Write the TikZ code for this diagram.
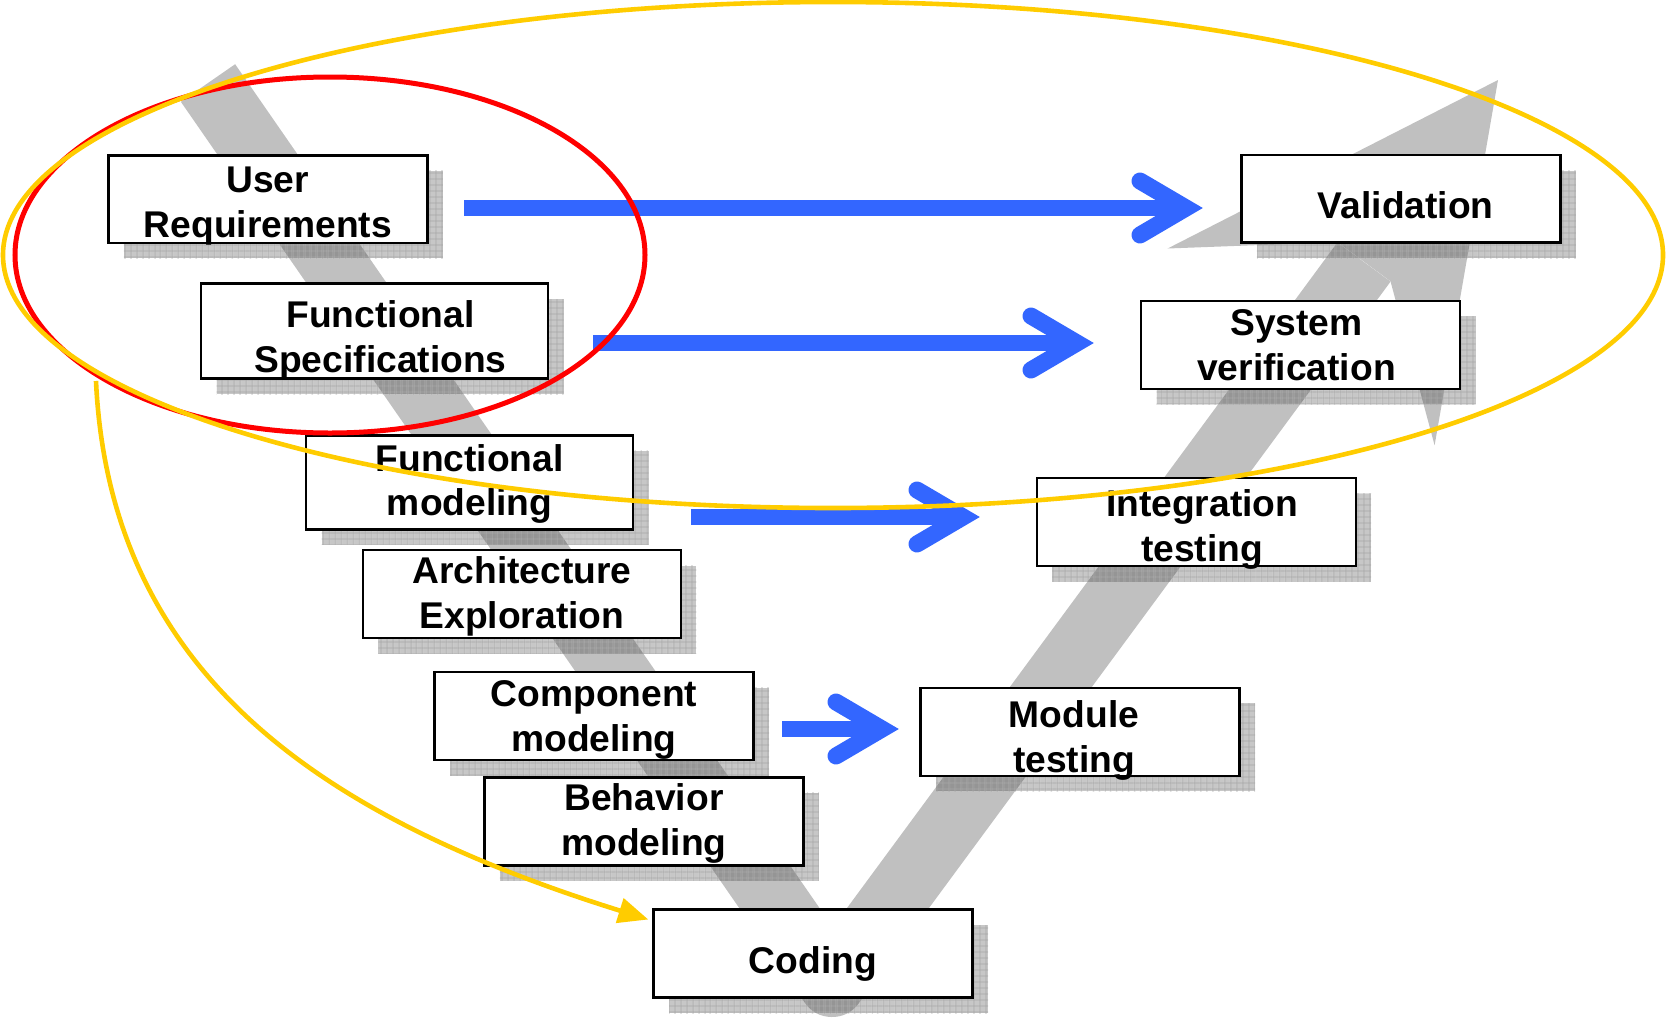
\documentclass[tikz,border=0pt]{standalone}
\usepackage{fontspec}
\setmainfont{Liberation Sans}
\usetikzlibrary{calc,arrows.meta,shadows,patterns.meta}

\definecolor{vgray}{HTML}{C0C0C0}
\definecolor{flowblue}{HTML}{3366FF}
\definecolor{ovalred}{HTML}{FF0000}
\definecolor{ovalyellow}{HTML}{FFCC00}

% box label: lines stacked from the first baseline, raised by #1 pt from the box centre,
% taking no vertical room so that the frame keeps its own size
\newcommand\stagetext[2]{\raisebox{#1pt}[0pt][0pt]{\begin{tabular}[t]{@{}c@{}}#2\end{tabular}}}
% leading space that moves a centred line sideways
\newcommand\nudge[1]{\hspace*{#1pt}}

\tikzset{
  stage/.style={draw=black, line width=2.4pt, fill=white, inner sep=0pt,
    minimum width=319pt, minimum height=88pt,
    font=\fontsize{37.2}{44.8}\selectfont\bfseries,
    general shadow={shadow xshift=15.5pt, shadow yshift=-15.5pt, fill=black, fill opacity=0.22},
    general shadow={shadow xshift=15.5pt, shadow yshift=-15.5pt,
      pattern={Lines[angle=0,distance=6.4pt,line width=0.7pt]}, pattern color=black!35},
    general shadow={shadow xshift=15.5pt, shadow yshift=-15.5pt,
      pattern={Lines[angle=90,distance=6.4pt,line width=0.7pt]}, pattern color=black!35}},
  vband/.style={vgray, line width=66pt, line join=round},
  blueshaft/.style={flowblue, line width=16pt},
  chevron/.style={flowblue, line width=17pt, line cap=round, line join=miter},
  loopback/.style={ovalyellow, line width=4.6pt, -{Triangle[length=30pt,width=25pt]}},
  oval/.style={line width=5pt}
}
\newcommand\bluechevron[1]{\draw[chevron] ($(#1)+(-46,-27)$) -- (#1) -- ($(#1)+(-46,27)$);}

\begin{document}
\begin{tikzpicture}[x=1pt,y=-1pt]
\useasboundingbox (0,0) rectangle (1666,1018);

% the V behind everything
\coordinate (vtop) at (208,83);
\coordinate (vbottom) at (832,984);
\coordinate (vhead) at (1364,262);
\draw[vband] (vtop) -- (vbottom) -- (vhead);
\fill[vgray] (1498,80) -- (1434.6,445.3) -- (1390.5,281.3) -- (1337.5,242.1) -- (1167.6,248.5) -- cycle;

% design stages (left arm)
\node[stage, minimum height=87.5pt] (ur) at (267.8,199.2) {\stagetext{6.75}{User\\Requirements}};
\node[stage, minimum width=347pt, minimum height=95pt] (fs) at (374.5,331) {\stagetext{3.75}{\nudge{12}Functional\\\nudge{12}Specifications}};
\node[stage, minimum width=327pt, minimum height=94pt] (fm) at (469.6,482.4) {\stagetext{11.25}{Functional\\modeling}};
\node[stage, minimum width=318pt] (ae) at (521.9,594.2) {\stagetext{10.75}{Architecture\\Exploration}};
\node[stage] (cm) at (594,716.1) {\stagetext{9.75}{Component\\modeling}};
\node[stage] (bm) at (643.9,821.3) {\stagetext{10.75}{Behavior\\modeling}};
\node[stage] (cd) at (813,953.5) {\stagetext{-20.15}{Coding}};

% test stages (right arm)
\node[stage, minimum height=87.5pt] (val) at (1400.8,198.8) {\stagetext{-19.85}{\nudge{10}Validation}};
\node[stage] (sv) at (1300.5,344.7) {\stagetext{9.35}{\nudge{-8}System\\\nudge{-8}verification}};
\node[stage] (it) at (1196.2,522.2) {\stagetext{5.25}{\nudge{12}Integration\\\nudge{12}testing}};
\node[stage] (mt) at (1080,731.7) {\stagetext{3.75}{\nudge{-12}Module\\\nudge{-12}testing}};

% correspondence arrows
\coordinate (a1s) at (464,208);  \coordinate (a1e) at (1186,208);
\coordinate (a2s) at (593,343);  \coordinate (a2e) at (1077,343);
\coordinate (a3s) at (691,517);  \coordinate (a3e) at (963,517);
\coordinate (a4s) at (782,729);  \coordinate (a4e) at (882,729);
\draw[blueshaft] (a1s) -- (a1e); \bluechevron{a1e}
\draw[blueshaft] (a2s) -- (a2e); \bluechevron{a2e}
\draw[blueshaft] (a3s) -- (a3e); \bluechevron{a3e}
\draw[blueshaft] (a4s) -- (a4e); \bluechevron{a4e}

% loop back to coding
\coordinate (ls) at (96,381);
\draw[loopback] (ls) .. controls (110,680) and (330,820) .. ($(cd.west)+(-4,-34)$);

% groupings
\draw[oval, ovalred] (330,255) ellipse [x radius=315, y radius=178];
\draw[oval, ovalyellow, line width=4.6pt] (833,255) ellipse [x radius=830, y radius=253];
\end{tikzpicture}
\end{document}
